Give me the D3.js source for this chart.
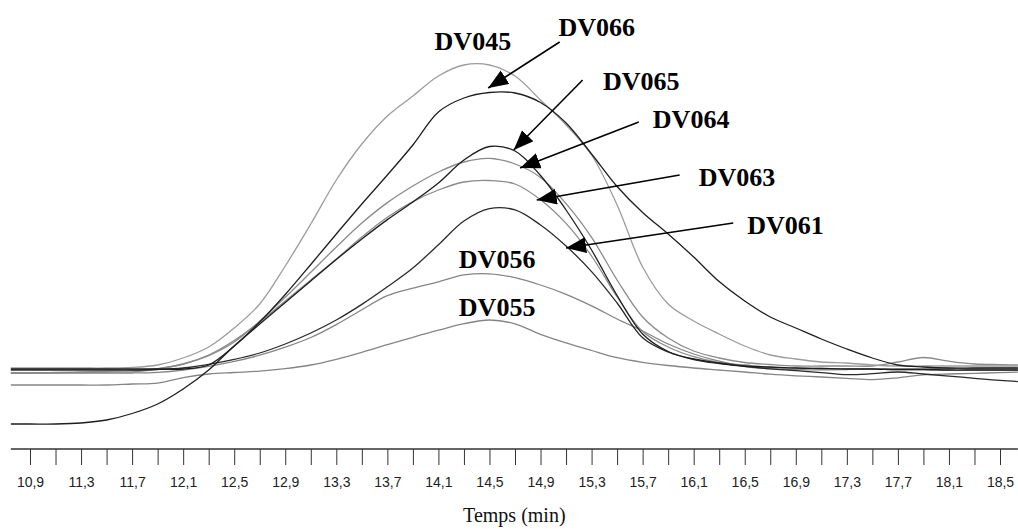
<!DOCTYPE html>
<html><head><meta charset="utf-8">
<script src="https://cdn.jsdelivr.net/npm/d3@7"></script>
<style>html,body{margin:0;padding:0;background:#fff;} svg{display:block}</style>
</head><body><svg id="c" width="1018" height="529"></svg>
<script>
// ---------- data ----------
const times = [10.7,10.9,11.1,11.3,11.5,11.7,11.9,12.1,12.3,12.5,12.7,12.9,13.1,13.3,13.5,13.7,13.9,14.1,14.3,14.5,
  14.7,14.9,15.1,15.3,15.5,15.7,15.9,16.1,16.3,16.5,16.7,16.9,17.1,17.3,17.5,17.7,17.9,18.1,18.3,18.5,18.7];

const DV045 = [81,81,81,81,81,81.5,84,91,102,121,145,183,225,269,305,333,353,373,384,384,373,349,324,294,244,182,145,128,115,103,94,90,87,86,84,83,83,83,83,83,83];
const DV066 = [80,80,80,80,80,80,80,80,84,103,127,154.5,184.5,215,245,274,304,337,351,356.5,356,346.5,326,295,262.5,236.5,215,192,167.4,148,132,121,110,100,91,84,82,81,81,81,81];
const DV065 = [25,25,25,26,29,35.5,45,60,79,103,125,146.5,168,189.5,210,229.4,247,266,289,302.5,298,273.5,239,199,153.5,115,97.5,90,86,83,82,81,80.5,80,80,79.5,79.5,79,79,79,79];
const DV064 = [76,76,76.2,76.5,76.8,77.2,80,85,93.4,107,128,151.7,176.7,202,226,246.4,263,277,287,290.6,285,271.6,245.4,211.7,169,132,111,98,91,86.5,84.5,83,83,83,83,87,91.5,87.8,85,84.4,84];
const DV063 = [76,76,76.5,77.1,77.7,78.3,80.4,85,94,108.5,127,148,169,190,212,231.7,247.4,259,267,268.5,265,249.3,225.6,193,152,117.5,102,92.3,86.5,84,81.5,80.8,80.5,80,80,79.5,79.5,79,79,79,79];
const DV061 = [79,79,79,79,79,79,79.5,81,84.7,89.6,96,105,116,129,144.6,162.2,181,204.3,228,240.4,239.1,224,203,177.4,146,111.3,97,89.5,85.4,82.6,80.2,78.4,76.4,74.3,75.3,77,75,72.9,70.7,68.6,67];
const DV056 = [76,76,76,76,76,76,76.7,79,82.7,87.6,93.8,101.8,111.5,124.4,139.3,153.3,160.8,167.2,174.1,175.2,171.4,164,154.7,143.2,130,118,105,95,87.8,82.5,80.3,79.3,79.2,79.5,79.8,80,80.2,80.5,80.7,80.9,81];
const DV055 = [64,64,64,64,64,65,65.9,71.4,75,76.5,77.9,80.3,84,89.7,96.6,104.3,111.7,118.8,125.3,129,125.2,114.7,106.1,98.5,91.3,86.7,83.5,81,79,77,74.8,73.2,72,70.7,69.4,71.2,74.1,75,75.6,76.4,77];

const seriesNames = ["DV055","DV056","DV064","DV063","DV045","DV061","DV065","DV066"];
const seriesValues = [DV055, DV056, DV064, DV063, DV045, DV061, DV065, DV066];
const seriesColors = ["#858585","#858585","#8a8a8a","#8a8a8a","#9c9c9c","#2a2a2a","#1e1e1e","#1e1e1e"];

const tickTimes = [10.9,11.1,11.3,11.5,11.7,11.9,12.1,12.3,12.5,12.7,12.9,13.1,13.3,13.5,13.7,13.9,14.1,14.3,14.5,14.7,
  14.9,15.1,15.3,15.5,15.7,15.9,16.1,16.3,16.5,16.7,16.9,17.1,17.3,17.5,17.7,17.9,18.1,18.3,18.5];
const tickLabels = ["10,9","","11,3","","11,7","","12,1","","12,5","","12,9","","13,3","","13,7","","14,1","","14,5","",
  "14,9","","15,3","","15,7","","16,1","","16,5","","16,9","","17,3","","17,7","","18,1","","18,5"];
const timeExtent = [10.75, 18.64];
const xTitle = "Temps (min)";

// annotations: label position (time, value), arrow tail and tip (time, value)
const labelNames = ["DV045","DV066","DV065","DV064","DV063","DV061","DV056","DV055"];
const labelPos = [[14.07,399],[15.04,413.5],[15.39,359],[15.78,321],[16.14,263],[16.52,215],[14.26,181],[14.26,133]];
const arrowNames = ["DV066","DV065","DV064","DV063","DV061"];
const arrowTail = [[15.05,407],[15.23,369],[15.67,327],[15.99,274],[16.41,226]];
const arrowTip  = [[14.49,361],[14.69,299],[14.74,281],[14.87,249],[15.10,201]];

// ---------- chart ----------
const svg = d3.select("#c");
const x = d3.scaleLinear().domain([10.9, 18.5]).range([30, 1000]);
const y = d3.scaleLinear().domain([0, 400]).range([449, 49]);

svg.append("defs").append("clipPath").attr("id","clip")
  .append("rect").attr("x", x(timeExtent[0])).attr("y", 0)
  .attr("width", x(timeExtent[1]) - x(timeExtent[0])).attr("height", 449);

const marker = svg.select("defs").append("marker")
  .attr("id","arrow").attr("markerUnits","userSpaceOnUse")
  .attr("markerWidth",21).attr("markerHeight",17)
  .attr("refX",20).attr("refY",8).attr("orient","auto");
marker.append("path").attr("d","M0,0 L20,8 L0,16 Z").attr("fill","#000");

const line = d3.line().x((d,i) => x(times[i])).y(d => y(d)).curve(d3.curveCatmullRom.alpha(0.5));

const g = svg.append("g").attr("clip-path","url(#clip)");
seriesValues.forEach((vals, k) => {
  g.append("path").datum(vals)
    .attr("fill","none").attr("stroke", seriesColors[k]).attr("stroke-width",1.3)
    .attr("d", line);
});

// axis
const axis = d3.axisBottom(x).tickValues(tickTimes).tickSize(16).tickPadding(12)
  .tickFormat((d,i) => tickLabels[i]);
const ax = svg.append("g").attr("transform","translate(0,449)").call(axis);
ax.select(".domain").remove();
ax.append("line").attr("x1", x(timeExtent[0])).attr("x2", x(timeExtent[1]))
  .attr("y1",0).attr("y2",0).attr("stroke","#333").attr("stroke-width",1.3);
ax.selectAll(".tick line").attr("stroke","#333").attr("stroke-width",1);
ax.selectAll(".tick text").attr("fill","#222")
  .style("font-family","'Liberation Sans', Arial, sans-serif").style("font-size","14px");

svg.append("text").attr("x", x((timeExtent[0]+timeExtent[1])/2)).attr("y", 522)
  .attr("text-anchor","middle").attr("fill","#111")
  .style("font-family","'Liberation Serif','Times New Roman',serif").style("font-size","20px")
  .text(xTitle);

// arrows
arrowNames.forEach((n,k) => {
  svg.append("line")
    .attr("x1", x(arrowTail[k][0])).attr("y1", y(arrowTail[k][1]))
    .attr("x2", x(arrowTip[k][0])).attr("y2", y(arrowTip[k][1]))
    .attr("stroke","#000").attr("stroke-width",1.6).attr("marker-end","url(#arrow)");
});

// labels
labelNames.forEach((n,k) => {
  svg.append("text").attr("x", x(labelPos[k][0])).attr("y", y(labelPos[k][1]))
    .style("font-family","'Liberation Serif','Times New Roman',serif")
    .style("font-size","26px").style("font-weight","bold").attr("fill","#000")
    .text(n);
});
</script>
</body></html>
